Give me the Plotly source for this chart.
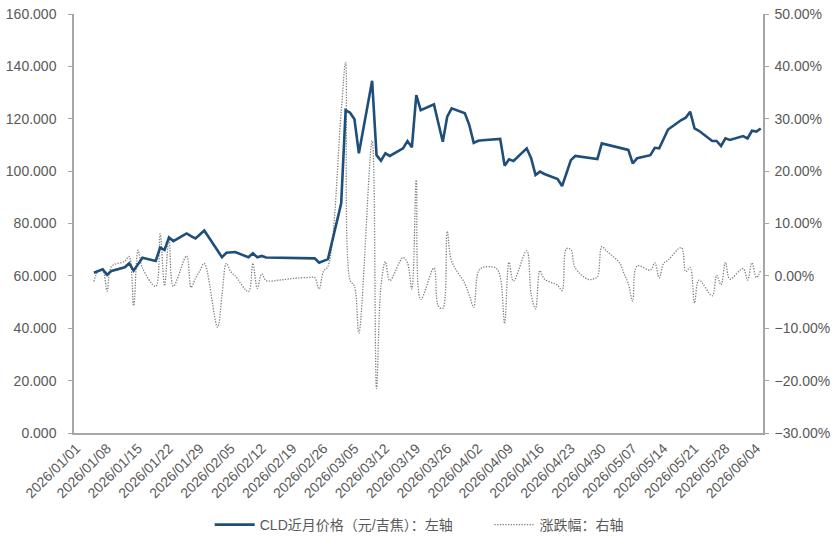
import plotly.graph_objects as go

dates = [
    "2026-01-05", "2026-01-06", "2026-01-07", "2026-01-08", "2026-01-09",
    "2026-01-12", "2026-01-13", "2026-01-14", "2026-01-15", "2026-01-16",
    "2026-01-19", "2026-01-20", "2026-01-21", "2026-01-22", "2026-01-23",
    "2026-01-26", "2026-01-27", "2026-01-28", "2026-01-29", "2026-01-30",
    "2026-02-02", "2026-02-03", "2026-02-04", "2026-02-05", "2026-02-06",
    "2026-02-09", "2026-02-10", "2026-02-11", "2026-02-12", "2026-02-13",
    "2026-02-16", "2026-02-17", "2026-02-18", "2026-02-19", "2026-02-20",
    "2026-02-23", "2026-02-24", "2026-02-25", "2026-02-26", "2026-02-27",
    "2026-03-02", "2026-03-03", "2026-03-04", "2026-03-05", "2026-03-06",
    "2026-03-09", "2026-03-10", "2026-03-11", "2026-03-12", "2026-03-13",
    "2026-03-16", "2026-03-17", "2026-03-18", "2026-03-19", "2026-03-20",
    "2026-03-23", "2026-03-24", "2026-03-25", "2026-03-26", "2026-03-27",
    "2026-03-30", "2026-03-31", "2026-04-01", "2026-04-02", "2026-04-03",
    "2026-04-06", "2026-04-07", "2026-04-08", "2026-04-09", "2026-04-10",
    "2026-04-13", "2026-04-14", "2026-04-15", "2026-04-16", "2026-04-17",
    "2026-04-20", "2026-04-21", "2026-04-22", "2026-04-23", "2026-04-24",
    "2026-04-27", "2026-04-28", "2026-04-29", "2026-04-30", "2026-05-01",
    "2026-05-04", "2026-05-05", "2026-05-06", "2026-05-07", "2026-05-08",
    "2026-05-11", "2026-05-12", "2026-05-13", "2026-05-14", "2026-05-15",
    "2026-05-18", "2026-05-19", "2026-05-20", "2026-05-21", "2026-05-22",
    "2026-05-25", "2026-05-26", "2026-05-27", "2026-05-28", "2026-05-29",
    "2026-06-01", "2026-06-02", "2026-06-03", "2026-06-04", "2026-06-05",
]

price = [
    61.2, 61.8, 62.5, 60.4, 61.9,
    63.3, 64.8, 62.0, 64.4, 66.9,
    65.7, 70.8, 69.9, 74.7, 73.3,
    76.2, 75.2, 74.3, 75.8, 77.3,
    69.7, 67.1, 68.8, 69.0, 69.1,
    67.1, 68.6, 67.1, 67.6, 67.0,
    66.95, 66.9, 66.9, 66.85, 66.8,
    66.75, 66.7, 65.0, 65.7, 66.4,
    87.7, 123.3, 122.3, 119.8, 106.8,
    134.5, 106.1, 104.0, 106.8, 105.8,
    108.7, 111.5, 109.1, 129.0, 123.3,
    125.5, 118.3, 111.2, 120.8, 124.0,
    122.1, 117.6, 110.8, 111.6, 111.8,
    112.1, 112.3, 102.1, 104.5, 103.9,
    108.7, 104.9, 98.5, 99.8, 98.9,
    97.0, 94.3, 99.2, 104.2, 105.8,
    105.1, 104.7, 104.6, 110.6, 110.2,
    109.1, 108.6, 108.1, 103.0, 104.9,
    106.1, 108.9, 108.7, 112.2, 115.9,
    119.5, 120.4, 122.7, 116.3, 115.4,
    111.5, 111.5, 109.6, 112.5, 111.9,
    113.4, 112.5, 115.4, 115.1, 116.3,
]

change_pct = [
    -1.1, 1.0, 1.1, -2.9, 1.8,
    2.8, 3.7, -5.7, 4.9, 1.5,
    -2.0, 8.0, -1.9, 7.2, -2.0,
    3.8, -2.2, -0.5, 1.0, 2.4,
    -9.8, -3.7, 2.4, 0.8, 0.0,
    -3.0, 2.4, -2.4, 0.4, -0.9,
    -0.8, -0.7, -0.6, -0.5, -0.4,
    -0.3, -0.3, -2.5, 0.9, 1.8,
    31.5, 40.8, -0.8, -2.0, -10.9,
    25.8, -21.5, -2.0, 2.7, -0.9,
    3.5, 2.5, -2.5, 18.3, -4.5,
    1.5, -5.8, -6.2, 8.5, 2.8,
    -1.5, -3.7, -6.0, 0.7, 1.6,
    1.5, -0.2, -9.1, 2.6, -1.0,
    4.8, -3.5, -6.3, 1.0, -0.6,
    -1.8, -2.8, 5.2, 5.0, 1.5,
    -0.7, -0.6, -0.2, 5.6, 4.8,
    2.5, 0.5, -1.5, -4.8, 1.9,
    1.1, 2.5, -0.4, 2.4, 3.0,
    5.4, 0.8, 1.6, -5.2, -0.8,
    -3.8, 0.1, -1.7, 2.6, -0.6,
    1.4, -0.8, 2.5, -0.3, 1.1,
]

price_name = "CLD近月价格（元/吉焦）：左轴"
change_name = "涨跌幅：右轴"

font_family = "Liberation Sans, Arial, Noto Sans CJK SC, sans-serif"
text_color = "#595959"
axis_color = "#a6a6a6"

fig = go.Figure()

fig.add_trace(go.Scatter(
    x=dates, y=change_pct, name=change_name, yaxis="y",
    mode="lines",
    line=dict(color="#7f7f7f", width=1.3, dash="1.3px,1.4px", shape="spline", smoothing=1.0),
    legend="legend2",
))

fig.add_trace(go.Scatter(
    x=dates, y=price, name=price_name, yaxis="y2",
    mode="lines",
    line=dict(color="#1f4e79", width=2.6),
    legend="legend",
))

legend_common = dict(
    orientation="h", yanchor="middle", y=-0.2196, xanchor="left",
    font=dict(size=14, color=text_color), itemwidth=40,
    bgcolor="rgba(0,0,0,0)",
)

fig.update_layout(
    width=834, height=545,
    margin=dict(l=74, r=71, t=14, b=112, autoexpand=False),
    paper_bgcolor="white", plot_bgcolor="white",
    font=dict(family=font_family, size=14, color=text_color),
    showlegend=True,
    legend=dict(legend_common, x=0.197),
    legend2=dict(legend_common, x=0.603),
    xaxis=dict(
        type="date", automargin=False,
        range=["2025-12-31 12:00", "2026-06-05 12:00"],
        tick0="2026-01-01", dtick=7 * 86400000,
        tickformat="%Y/%m/%d", tickangle=-45,
        showgrid=False, zeroline=False,
        showline=True, linecolor=axis_color, linewidth=1.5,
        ticks="", tickfont=dict(size=14, color=text_color),
    ),
    yaxis=dict(
        side="right", automargin=False,
        range=[-30, 50], dtick=10, tick0=-30,
        tickformat=".2f", ticksuffix="%",
        showgrid=False, zeroline=False,
        showline=True, linecolor=axis_color, linewidth=1.5,
        ticks="outside", ticklen=4, tickcolor=axis_color,
        tickfont=dict(size=14, color=text_color),
        ticklabelstandoff=3,
    ),
    yaxis2=dict(
        side="left", overlaying="y", automargin=False,
        range=[0, 160], dtick=20, tick0=0,
        tickformat=".3f",
        showgrid=False, zeroline=False,
        showline=True, linecolor=axis_color, linewidth=1.5,
        ticks="outside", ticklen=4, tickcolor=axis_color,
        tickfont=dict(size=14, color=text_color),
        ticklabelstandoff=9,
    ),
)

fig.write_html("out.html")
